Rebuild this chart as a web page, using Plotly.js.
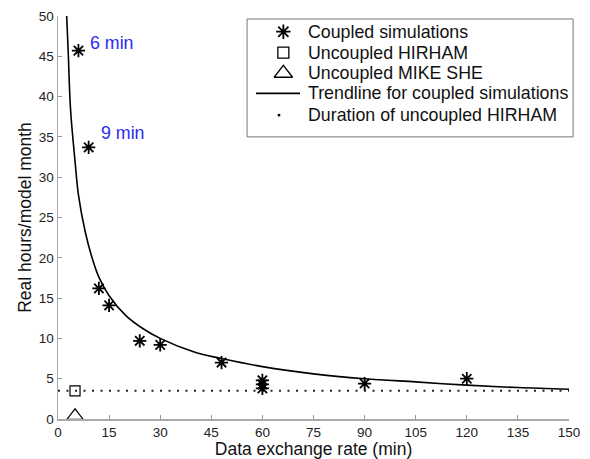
<!DOCTYPE html>
<html><head><meta charset="utf-8">
<script src="https://cdn.plot.ly/plotly-3.0.1.min.js"></script>
<style>html,body{margin:0;padding:0;background:#fff}</style>
</head><body><div id="chart" style="width:590px;height:459px"></div>
<script>
// Coupled simulations: exchange rate (min) vs real hours per model month
const coupledX = [6, 9, 12, 15, 24, 30, 48, 60, 60, 60, 90, 120];
const coupledY = [45.7, 33.7, 16.2, 14.1, 9.7, 9.2, 7.0, 4.8, 4.3, 3.8, 4.4, 5.0];
// Uncoupled runs
const hirhamX = [5];
const hirhamY = [3.5];
const mikeX = [5];
const mikeY = [0.4];
// Trendline
const trendX = [2.55, 3, 3.7, 5, 6, 8, 10, 12, 15, 20, 25, 30, 40, 48, 60, 75, 90, 105, 120, 135, 150];
const trendY = [50, 45.5, 38.3, 32, 27.8, 23.2, 20.0, 17.6, 15.3, 12.8, 11.2, 10.0, 8.3, 7.5, 6.5, 5.6, 5.0, 4.6, 4.2, 3.9, 3.7];
// Duration of uncoupled HIRHAM (horizontal reference)
const durX = [0, 150];
const durY = [3.5, 3.5];
// Labels
const labelText = ["6 min", "9 min"];
const labelX = [8.8, 12.0];
const labelY = [46.6, 35.5];
const xTicks = [0, 15, 30, 45, 60, 75, 90, 105, 120, 135, 150];
const yTicks = [0, 5, 10, 15, 20, 25, 30, 35, 40, 45, 50];
const legendNames = ["Coupled simulations", "Uncoupled HIRHAM", "Uncoupled MIKE SHE",
                     "Trendline for coupled simulations", "Duration of uncoupled HIRHAM"];

const FONT = 'Liberation Sans, Arial, sans-serif';
// legend key layout (paper fractions of the plot area)
const legRowY = [0.961, 0.909, 0.858, 0.808, 0.754];
const legSymX = 0.441, legTextX = 0.4867;

const traces = [
  {x: durX, y: durY, mode: 'lines', showlegend: false, hoverinfo: 'skip',
   line: {color: '#222', width: 2, dash: '2px,6.5px'}},
  {x: trendX, y: trendY, mode: 'lines', showlegend: false,
   line: {color: '#000', width: 1.6, shape: 'spline'}},
  {x: coupledX, y: coupledY, mode: 'markers', showlegend: false,
   marker: {symbol: 'asterisk-open', size: 11, color: '#000', line: {color: '#000', width: 1.8}}},
  {x: hirhamX, y: hirhamY, mode: 'markers', showlegend: false,
   marker: {symbol: 'square-open', size: 10, color: '#000', line: {color: '#000', width: 1.2}}},
  {x: mikeX, y: mikeY, mode: 'markers', showlegend: false,
   marker: {symbol: 'triangle-up-open', size: 14, color: '#000', line: {color: '#000', width: 1.2}}},
  // legend keys on an overlay axis spanning the plot area
  {x: [legSymX], y: [legRowY[0]], xaxis: 'x2', yaxis: 'y2', mode: 'markers', showlegend: false, cliponaxis: false,
   marker: {symbol: 'asterisk-open', size: 12, color: '#000', line: {color: '#000', width: 1.8}}},
  {x: [legSymX], y: [legRowY[1]], xaxis: 'x2', yaxis: 'y2', mode: 'markers', showlegend: false, cliponaxis: false,
   marker: {symbol: 'square-open', size: 11, color: '#000', line: {color: '#000', width: 1.3}}},
  {x: [legSymX], y: [legRowY[2]], xaxis: 'x2', yaxis: 'y2', mode: 'markers', showlegend: false, cliponaxis: false,
   marker: {symbol: 'triangle-up-open', size: 16, color: '#000', line: {color: '#000', width: 1.3}}},
  {x: [0.3875, 0.4736], y: [legRowY[3], legRowY[3]], xaxis: 'x2', yaxis: 'y2', mode: 'lines', showlegend: false, cliponaxis: false,
   line: {color: '#000', width: 1.6}},
  {x: [0.4325], y: [legRowY[4]], xaxis: 'x2', yaxis: 'y2', mode: 'markers', showlegend: false, cliponaxis: false,
   marker: {symbol: 'square', size: 2.5, color: '#000'}}
];

const annotations = labelText.map((t, i) => ({
  x: labelX[i], y: labelY[i], xref: 'x', yref: 'y', text: t, showarrow: false,
  xanchor: 'left', yanchor: 'middle', font: {family: FONT, size: 17.8, color: '#2b2bf0'}
})).concat(legendNames.map((t, i) => ({
  x: legTextX, y: legRowY[i], xref: 'paper', yref: 'paper', text: t, showarrow: false,
  xanchor: 'left', yanchor: 'middle', borderpad: 0, font: {family: FONT, size: 17.8, color: '#111'}
})));

const layout = {
  width: 590, height: 459,
  margin: {l: 58, r: 21, t: 16, b: 40},
  paper_bgcolor: '#fff', plot_bgcolor: '#fff',
  font: {family: FONT, color: '#222', size: 13},
  showlegend: false,
  shapes: [{type: 'rect', xref: 'paper', yref: 'paper', x0: 0.370, x1: 1.008, y0: 0.700, y1: 0.9926,
            line: {color: '#777', width: 1}, fillcolor: 'rgba(255,255,255,0)', layer: 'above'}],
  xaxis: {range: [0, 150], tickvals: xTicks, ticks: 'inside', ticklen: 4, tickcolor: '#999',
          showline: true, linecolor: '#aaa', linewidth: 1.5, showgrid: false, zeroline: false,
          mirror: false, tickfont: {size: 13.5, color: '#222'},
          title: {text: 'Data exchange rate (min)', font: {size: 17.5, color: '#111'}, standoff: 3}},
  yaxis: {range: [0, 50], tickvals: yTicks, ticks: 'inside', ticklen: 4, tickcolor: '#999',
          showline: true, linecolor: '#aaa', linewidth: 1.5, showgrid: false, zeroline: false,
          mirror: false, tickfont: {size: 13.5, color: '#222'},
          title: {text: 'Real hours/model month', font: {size: 17.5, color: '#111'}, standoff: 2}},
  xaxis2: {range: [0, 1], overlaying: 'x', visible: false, fixedrange: true},
  yaxis2: {range: [0, 1], overlaying: 'y', visible: false, fixedrange: true},
  annotations: annotations
};

Plotly.newPlot('chart', traces, layout, {displayModeBar: false, staticPlot: true});
</script></body></html>
